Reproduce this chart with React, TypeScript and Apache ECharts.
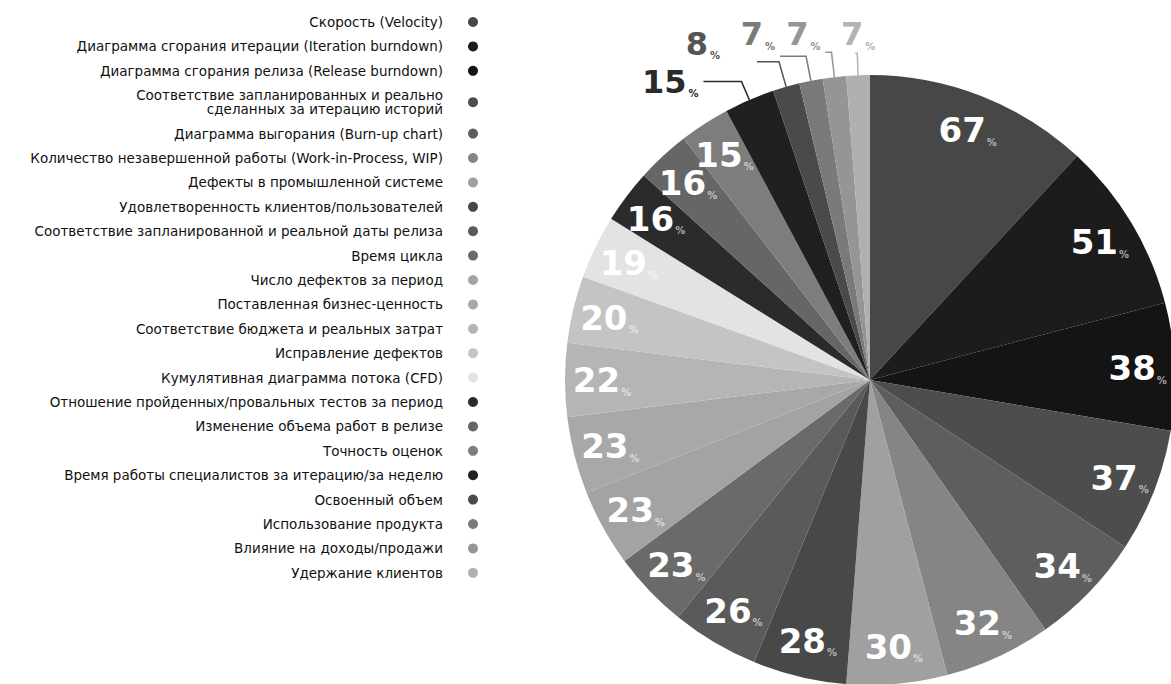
import React, { useEffect, useRef } from "react";
import * as echarts from "echarts";

const categories = [
  "Скорость (Velocity)",
  "Диаграмма сгорания итерации (Iteration burndown)",
  "Диаграмма сгорания релиза (Release burndown)",
  "Соответствие запланированных и реально\nсделанных за итерацию историй",
  "Диаграмма выгорания (Burn-up chart)",
  "Количество незавершенной работы (Work-in-Process, WIP)",
  "Дефекты в промышленной системе",
  "Удовлетворенность клиентов/пользователей",
  "Соответствие запланированной и реальной даты релиза",
  "Время цикла",
  "Число дефектов за период",
  "Поставленная бизнес-ценность",
  "Соответствие бюджета и реальных затрат",
  "Исправление дефектов",
  "Кумулятивная диаграмма потока (CFD)",
  "Отношение пройденных/провальных тестов за период",
  "Изменение объема работ в релизе",
  "Точность оценок",
  "Время работы специалистов за итерацию/за неделю",
  "Освоенный объем",
  "Использование продукта",
  "Влияние на доходы/продажи",
  "Удержание клиентов",
];

const values = [67, 51, 38, 37, 34, 32, 30, 28, 26, 23, 23, 23, 22, 20, 19, 16, 16, 15, 15, 8, 7, 7, 7];

const colors = [
  "#474747", "#1c1c1c", "#141414", "#4d4d4d", "#5e5e5e", "#858585", "#a0a0a0",
  "#484848", "#5a5a5a", "#6a6a6a", "#a3a3a3", "#a8a8a8", "#b5b5b5", "#c4c4c4",
  "#e3e3e3", "#2b2b2b", "#666666", "#7d7d7d", "#202020", "#4a4a4a", "#7a7a7a",
  "#959595", "#b0b0b0",
];

// label styling for slices whose labels sit outside the pie
const outsideStyle: Record<number, { len: number; len2: number; pad: number[]; shift: number; color: string }> = {
  18: { len: 20, len2: 38, pad: [0, 0, 0, 0], shift: 0, color: "#2a2a2a" },
  19: { len: 26, len2: 22, pad: [0, 32, 36, 0], shift: 0, color: "#555555" },
  20: { len: 25, len2: 26, pad: [0, 0, 44, 0], shift: 0, color: "#7a7a7a" },
  21: { len: 25, len2: 6, pad: [0, 0, 36, 0], shift: 0, color: "#959595" },
  22: { len: 22, len2: 2, pad: [0, 0, 38, 0], shift: 25, color: "#b3b3b3" },
};

const NUM_FONT = "DejaVu Sans";
const LEGEND_FONT = "DejaVu Sans";

export default function App() {
  const ref = useRef<HTMLDivElement>(null);

  useEffect(() => {
    if (!ref.current) return;
    const chart = echarts.init(ref.current, null, { renderer: "svg" });

    const center = [870, 380];
    const R = 305;

    const mainData = values.map((v, i) => {
      const o = outsideStyle[i];
      const item: any = {
        name: categories[i],
        value: v,
        itemStyle: { color: colors[i] },
      };
      if (o) {
        item.label = {
          show: true,
          position: "outside",
          formatter: "{n|{c}}{p|%}",
          padding: o.pad,
          rich: {
            n: { fontFamily: NUM_FONT, fontWeight: "bold", fontSize: 32, lineHeight: 34, color: o.color },
            p: { fontFamily: NUM_FONT, fontWeight: "bold", fontSize: 10, lineHeight: 16, verticalAlign: "bottom", color: o.color, padding: [0, 0, 0, 2] },
          },
        };
        item.labelLine = {
          show: true,
          length: o.len,
          length2: o.len2,
          lineStyle: { color: o.color, width: 1.5 },
        };
      }
      return item;
    });

    const labelData = values.map((v, i) => ({
      name: categories[i],
      value: v,
      label: { show: !outsideStyle[i] },
    }));

    chart.setOption({
      animation: false,
      backgroundColor: "#ffffff",
      legend: {
        orient: "vertical",
        right: 693,
        top: 15,
        align: "right",
        icon: "circle",
        itemWidth: 50,
        itemHeight: 10,
        itemGap: 10.4,
        padding: 0,
        selectedMode: false,
        textStyle: { fontFamily: LEGEND_FONT, fontSize: 13.5, lineHeight: 14, color: "#111111" },
        data: categories.map((name, i) => ({ name, itemStyle: { color: colors[i] } })),
      },
      series: [
        {
          type: "pie",
          center,
          radius: R,
          startAngle: 90,
          clockwise: true,
          avoidLabelOverlap: false,
          minShowLabelAngle: 0,
          labelLayout: (p: any) => {
            const o = outsideStyle[p.dataIndex];
            return o && o.shift ? { dx: o.shift, hideOverlap: false } : { hideOverlap: false };
          },
          silent: true,
          label: { show: false },
          labelLine: { show: false },
          emphasis: { disabled: true },
          data: mainData,
        },
        {
          type: "pie",
          center,
          radius: [225, R],
          startAngle: 90,
          clockwise: true,
          avoidLabelOverlap: false,
          minShowLabelAngle: 0,
          labelLayout: { hideOverlap: false },
          silent: true,
          itemStyle: { color: "transparent" },
          labelLine: { show: false },
          emphasis: { disabled: true },
          label: {
            position: "inside",
            formatter: "{n|{c}}{p|%}",
            rich: {
              n: { fontFamily: NUM_FONT, fontWeight: "bold", fontSize: 34, lineHeight: 34, color: "#ffffff" },
              p: { fontFamily: NUM_FONT, fontWeight: "bold", fontSize: 10, lineHeight: 16, verticalAlign: "bottom", color: "rgba(255,255,255,0.6)", padding: [0, 0, 0, 1] },
            },
          },
          data: labelData,
        },
      ],
    });

    return () => chart.dispose();
  }, []);

  return (
    <div
      ref={ref}
      style={{ position: "fixed", left: 0, top: 0, width: 1171, height: 684, background: "#fff" }}
    />
  );
}
